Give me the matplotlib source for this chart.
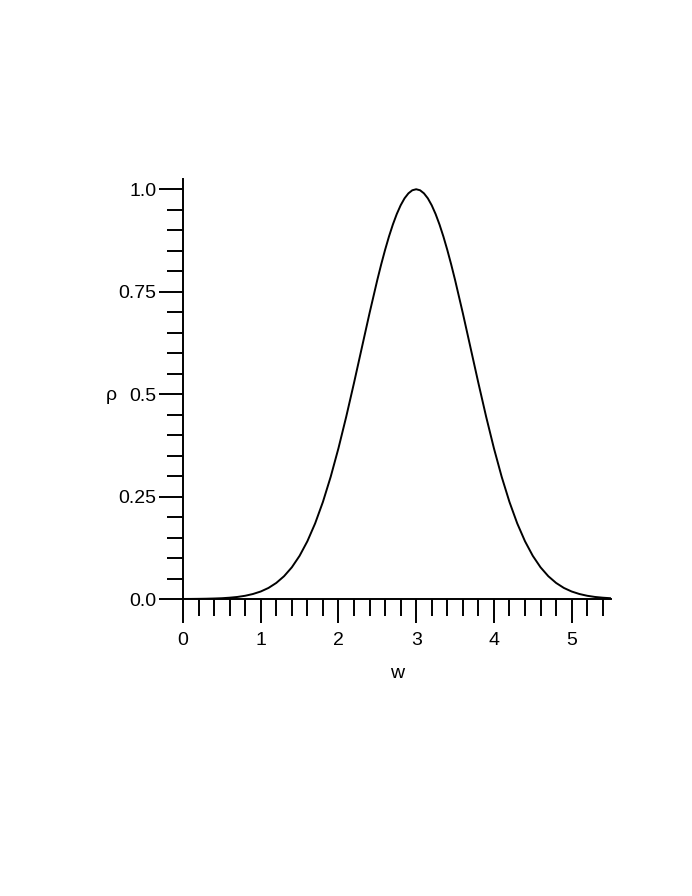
import matplotlib.pyplot as plt
from matplotlib.ticker import MultipleLocator, FixedLocator, FixedFormatter

plt.rcParams['font.family'] = ['Liberation Sans', 'DejaVu Sans']

# values (finer spacing around the peak)
w = [0.0, 0.1, 0.2, 0.3, 0.4, 0.5, 0.6, 0.7, 0.8, 0.9,
     1.0, 1.1, 1.2, 1.3, 1.4, 1.5, 1.6, 1.7, 1.8, 1.9,
     2.0, 2.1, 2.2, 2.3, 2.4, 2.5, 2.55, 2.6, 2.65, 2.7, 2.75, 2.8, 2.85, 2.9, 2.95,
     3.0, 3.05, 3.1, 3.15, 3.2, 3.25, 3.3, 3.35, 3.4, 3.45, 3.5,
     3.6, 3.7, 3.8, 3.9, 4.0, 4.1, 4.2, 4.3, 4.4, 4.5,
     4.6, 4.7, 4.8, 4.9, 5.0, 5.1, 5.2, 5.3, 5.4, 5.5]
rho = [0.0001, 0.0002, 0.0004, 0.0007, 0.0012, 0.0019, 0.0032, 0.0050, 0.0079, 0.0122,
       0.0183, 0.0270, 0.0392, 0.0556, 0.0773, 0.1054, 0.1409, 0.1845, 0.2369, 0.2982,
       0.3679, 0.4449, 0.5273, 0.6126, 0.6977, 0.7788, 0.8167, 0.8521, 0.8847, 0.9139,
       0.9394, 0.9608, 0.9778, 0.9900, 0.9975,
       1.0000, 0.9975, 0.9900, 0.9778, 0.9608, 0.9394, 0.9139, 0.8847, 0.8521, 0.8167, 0.7788,
       0.6977, 0.6126, 0.5273, 0.4449, 0.3679, 0.2982, 0.2369, 0.1845, 0.1409, 0.1054,
       0.0773, 0.0556, 0.0392, 0.0270, 0.0183, 0.0122, 0.0079, 0.0050, 0.0032, 0.0019]

x_ticks = [0, 1, 2, 3, 4, 5]
y_ticks = [0.0, 0.25, 0.5, 0.75, 1.0]
y_labels = ["0.0", "0.25", "0.5", "0.75", "1.0"]

fig = plt.figure(figsize=(6.92, 8.96), dpi=100)
ax = fig.add_axes([183 / 692, 1 - 599 / 896, (610.5 - 183) / 692, (599 - 179) / 896])

ax.plot(w, rho, color="black", linewidth=1.4)

ax.set_xlim(0, 5.5)
ax.set_ylim(0, 1.025)

for side in ["top", "right"]:
    ax.spines[side].set_visible(False)
for side in ["left", "bottom"]:
    ax.spines[side].set_linewidth(1.4)
    ax.spines[side].set_clip_on(False)

ax.xaxis.set_major_locator(FixedLocator(x_ticks))
ax.xaxis.set_minor_locator(MultipleLocator(0.2))
ax.yaxis.set_major_locator(FixedLocator(y_ticks))
ax.yaxis.set_major_formatter(FixedFormatter(y_labels))
ax.yaxis.set_minor_locator(MultipleLocator(0.05))

ax.tick_params(axis="both", which="major", direction="out", length=17.5, width=1.4,
               labelsize=14, color="black")
ax.tick_params(axis="y", which="minor", direction="out", length=11.5, width=1.4)
ax.tick_params(axis="x", which="minor", direction="out", length=12.5, width=1.4)
ax.tick_params(axis="y", which="major", pad=1.5)
ax.tick_params(axis="x", which="major", pad=6)

fig.text(111 / 692, 1 - 395 / 896, "ρ", fontsize=14, ha="center", va="center")
fig.text(397 / 692, 1 - 673 / 896, "w", fontsize=14, ha="center", va="center")

fig.savefig("out.png", dpi=100)
